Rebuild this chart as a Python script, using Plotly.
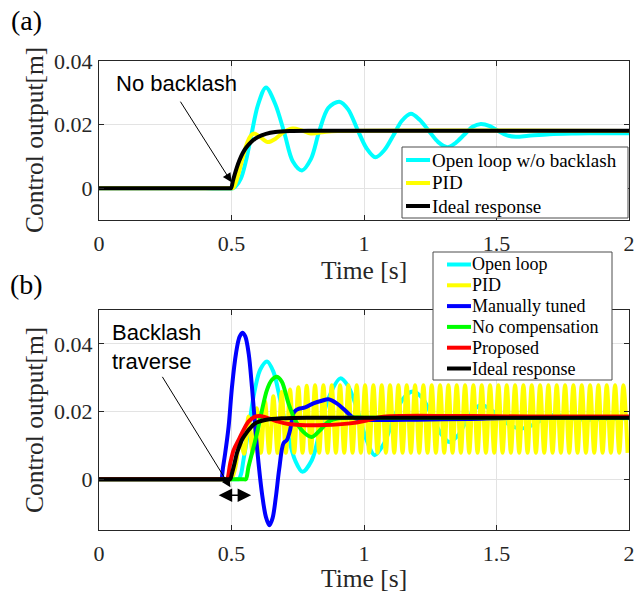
import plotly.graph_objects as go

W, H = 634, 596          # browser window / figure size

# ---------------- data: panel (a) ----------------
t_a_open = [0, 0.400, 0.505, 0.515, 0.535, 0.555, 0.575, 0.600, 0.630, 0.665, 0.700, 0.731, 0.766,
            0.800, 0.830, 0.865, 0.907, 0.940, 0.975, 1.010, 1.043, 1.077, 1.110, 1.143, 1.177,
            1.210, 1.245, 1.280, 1.315, 1.345, 1.378, 1.410, 1.441, 1.475, 1.507, 1.540, 1.573,
            1.620, 1.700, 1.800, 1.900, 2.000]
v_a_open = [0, 0, 0, 0.0005, 0.0030, 0.0088, 0.0168, 0.0262, 0.0317, 0.0265, 0.0172, 0.0085, 0.0056,
            0.0092, 0.0176, 0.0252, 0.0272, 0.0248, 0.0185, 0.0125, 0.0097, 0.0120, 0.0165, 0.0212, 0.0234,
            0.0215, 0.0180, 0.0145, 0.0129, 0.0142, 0.0168, 0.0193, 0.0202, 0.0195, 0.0180, 0.0166, 0.0162,
            0.0165, 0.0170, 0.0172, 0.0173, 0.0173]

t_a_pid = [0, 0.400, 0.495, 0.505, 0.515, 0.528, 0.542, 0.556, 0.570, 0.585, 0.605, 0.637, 0.665,
           0.700, 0.731, 0.765, 0.800, 0.850, 0.900, 2.000]
v_a_pid = [0, 0, 0, 0, 0.0015, 0.0050, 0.0095, 0.0135, 0.0162, 0.0172, 0.0163, 0.0145, 0.0155,
           0.0178, 0.0188, 0.0182, 0.0172, 0.0177, 0.0180, 0.0180]

t_a_ideal = [0, 0.400, 0.490, 0.498, 0.505, 0.512, 0.520, 0.530, 0.542, 0.555, 0.575, 0.600, 0.630,
             0.665, 0.720, 0.800, 1.000, 2.000]
v_a_ideal = [0, 0, 0, 0, 0.0022, 0.0043, 0.0065, 0.0088, 0.0110, 0.0127, 0.0146, 0.0161, 0.0171,
             0.0177, 0.0180, 0.0181, 0.0181, 0.0181]

# ---------------- data: panel (b) ----------------
t_b_open = [0, 0.400, 0.520, 0.527, 0.536, 0.545, 0.564, 0.583, 0.608, 0.634, 0.658, 0.684, 0.709,
            0.740, 0.768, 0.803, 0.834, 0.866, 0.911, 0.940, 0.975, 1.010, 1.040, 1.075, 1.110,
            1.145, 1.184, 1.220, 1.255, 1.290, 1.322, 1.355, 1.385, 1.415, 1.442, 1.480, 1.515,
            1.555, 1.592, 1.630, 1.670, 1.715, 1.760, 1.800, 1.850, 1.900, 2.000]
v_b_open = [0, 0, 0, 0, 0.0015, 0.0056, 0.0145, 0.0244, 0.0323, 0.0348, 0.0318, 0.0234, 0.0145,
            0.0056, 0.0022, 0.0056, 0.0145, 0.0239, 0.0298, 0.0275, 0.0205, 0.0115, 0.0071, 0.0105, 0.0175,
            0.0235, 0.0259, 0.0240, 0.0190, 0.0135, 0.0110, 0.0130, 0.0170, 0.0205, 0.0219, 0.0205, 0.0180,
            0.0158, 0.0150, 0.0158, 0.0175, 0.0190, 0.0185, 0.0178, 0.0176, 0.0178, 0.0180]

t_b_pid = [0, 0.300, 0.450, 0.490, 0.500, 0.516,
           0.5322, 0.5479, 0.5637, 0.5794, 0.5951, 0.6108, 0.6266, 0.6423, 0.6580, 0.6737,
           0.6895, 0.7052, 0.7209, 0.7366, 0.7524, 0.7681, 0.7839, 0.7996, 0.8153, 0.8310,
           0.8468, 0.8625, 0.8782, 0.8939, 0.9097, 0.9254, 0.9411, 0.9568, 0.9725, 0.9882,
           1.0040, 1.0197, 1.0354, 1.0511, 1.0669, 1.0826, 1.0983, 1.1140, 1.1298, 1.1455,
           1.1612, 1.1769, 1.1927, 1.2084, 1.2241, 1.2398, 1.2556, 1.2713, 1.2870, 1.3027,
           1.3185, 1.3342, 1.3499, 1.3656, 1.3814, 1.3971, 1.4128, 1.4285, 1.4443, 1.4600,
           1.4757, 1.4914, 1.5072, 1.5229, 1.5386, 1.5543, 1.5701, 1.5858, 1.6015, 1.6172,
           1.6330, 1.6487, 1.6644, 1.6801, 1.6959, 1.7116, 1.7273, 1.7430, 1.7588, 1.7745,
           1.7902, 1.8059, 1.8217, 1.8374, 1.8531, 1.8688, 1.8846, 1.9003, 1.9160, 1.9317,
           1.9475, 1.9632, 1.9789, 1.9946]
v_b_pid = [0, 0, 0, 0, 0, 0.004,
           0.0120, 0.0075, 0.0185, 0.0078, 0.0210, 0.0078, 0.0230, 0.0078, 0.0245, 0.0078,
           0.0258, 0.0078, 0.0265, 0.0078, 0.0272, 0.0078, 0.0276, 0.0078, 0.0278, 0.0078,
           0.0278, 0.0078, 0.0278, 0.0078, 0.0278, 0.0078, 0.0278, 0.0078, 0.0278, 0.0078,
           0.0278, 0.0078, 0.0278, 0.0078, 0.0278, 0.0078, 0.0278, 0.0078, 0.0278, 0.0078,
           0.0278, 0.0078, 0.0278, 0.0078, 0.0278, 0.0078, 0.0278, 0.0078, 0.0278, 0.0078,
           0.0278, 0.0078, 0.0278, 0.0078, 0.0278, 0.0078, 0.0278, 0.0078, 0.0278, 0.0078,
           0.0278, 0.0078, 0.0278, 0.0078, 0.0278, 0.0078, 0.0278, 0.0078, 0.0278, 0.0078,
           0.0278, 0.0078, 0.0278, 0.0078, 0.0278, 0.0078, 0.0278, 0.0078, 0.0278, 0.0078,
           0.0278, 0.0078, 0.0278, 0.0078, 0.0278, 0.0078, 0.0278, 0.0078, 0.0278, 0.0078,
           0.0278, 0.0078, 0.0278, 0.0078]

t_b_manual = [0, 0.400, 0.455, 0.461, 0.468, 0.476, 0.489, 0.502, 0.517, 0.530, 0.541, 0.552, 0.565,
              0.577, 0.596, 0.615, 0.630, 0.643, 0.655, 0.667, 0.680, 0.696, 0.709, 0.721, 0.734,
              0.742, 0.753, 0.778, 0.809, 0.841, 0.866, 0.897, 0.928, 0.954, 0.980, 1.050, 1.200,
              1.400, 1.550, 2.000]
v_b_manual = [0, 0, 0, 0, 0.0035, 0.0076, 0.0155, 0.0274, 0.0372, 0.0420, 0.0433, 0.0422, 0.0370,
              0.0274, 0.0096, -0.0042, -0.0112, -0.0136, -0.0115, -0.0055, 0.0030, 0.0106, 0.0116, 0.0145, 0.0195,
              0.0203, 0.0208, 0.0212, 0.0224, 0.0232, 0.0236, 0.0224, 0.0204, 0.0185, 0.0177, 0.0175, 0.0176,
              0.0178, 0.0181, 0.0182]

t_b_nocomp = [0, 0.450, 0.545, 0.554, 0.564, 0.577, 0.596, 0.615, 0.634, 0.652, 0.671, 0.690, 0.715,
              0.740, 0.771, 0.803, 0.834, 0.866, 0.903, 0.950, 1.000, 2.000]
v_b_nocomp = [0, 0, 0, 0, 0.0036, 0.0076, 0.0135, 0.0204, 0.0264, 0.0293, 0.0303, 0.0288, 0.0224,
              0.0175, 0.0140, 0.0125, 0.0145, 0.0170, 0.0180, 0.0182, 0.0182, 0.0182]

t_b_prop = [0, 0.400, 0.475, 0.483, 0.495, 0.508, 0.527, 0.545, 0.564, 0.589, 0.608, 0.640, 0.677,
            0.715, 0.760, 0.850, 0.947, 1.000, 1.040, 1.073, 1.150, 1.300, 1.500, 1.700, 2.000]
v_b_prop = [0, 0, 0, 0, 0.0046, 0.0086, 0.0116, 0.0145, 0.0170, 0.0185, 0.0187, 0.0180, 0.0170,
            0.0163, 0.0160, 0.0160, 0.0165, 0.0172, 0.0180, 0.0185, 0.0187, 0.0187, 0.0186, 0.0185, 0.0185]

t_b_ideal = [0, 0.400, 0.487, 0.495, 0.502, 0.508, 0.514, 0.520, 0.530, 0.539, 0.552, 0.564, 0.589,
             0.627, 0.690, 0.800, 2.000]
v_b_ideal = [0, 0, 0, 0, 0.0018, 0.0036, 0.0056, 0.0076, 0.0098, 0.0116, 0.0132, 0.0145, 0.0165,
             0.0175, 0.0180, 0.0182, 0.0182]

names_a = ["Open loop w/o backlash", "PID", "Ideal response"]
colors_a = ["#00FFFF", "#FFFF00", "#000000"]
names_b = ["Open loop", "PID", "Manually tuned", "No compensation", "Proposed", "Ideal response"]
colors_b = ["#00FFFF", "#FFFF00", "#0000FF", "#00FF00", "#FF0000", "#000000"]

x_tickvals = [0, 0.5, 1, 1.5, 2]
x_ticktext = ["0", "0.5", "1", "1.5", "2"]
y_tickvals = [0, 0.02, 0.04]
y_ticktext = ["0", "0.02", "0.04"]
x_title = "Time [s]"
y_title = "Control output[m]"


# ---------------- helpers: window pixels -> paper coordinates ----------------
def px(x):
    return x / W


def py(y):
    return 1 - y / H


SERIF = "Liberation Serif, Times New Roman, serif"
SANS = "Liberation Sans, Arial, sans-serif"
AXC = "#262626"

fig = go.Figure()

series_a = [(t_a_open, v_a_open), (t_a_pid, v_a_pid), (t_a_ideal, v_a_ideal)]
for (t, v), name, c in zip(series_a, names_a, colors_a):
    fig.add_trace(go.Scatter(x=t, y=v, name=name, mode="lines", showlegend=False,
                             line=dict(color=c, width=4, shape="spline", smoothing=0.9),
                             xaxis="x", yaxis="y"))

series_b = [(t_b_open, v_b_open), (t_b_pid, v_b_pid), (t_b_manual, v_b_manual),
            (t_b_nocomp, v_b_nocomp), (t_b_prop, v_b_prop), (t_b_ideal, v_b_ideal)]
for (t, v), name, c in zip(series_b, names_b, colors_b):
    fig.add_trace(go.Scatter(x=t, y=v, name=name, mode="lines", showlegend=False,
                             line=dict(color=c, width=4, shape="spline", smoothing=0.9),
                             xaxis="x2", yaxis="y2"))

common_x = dict(range=[0, 2], tickvals=x_tickvals, ticktext=x_ticktext,
                ticks="inside", ticklen=5, tickcolor=AXC, mirror="ticks",
                showline=True, linecolor=AXC, linewidth=1, automargin=False,
                showgrid=True, gridcolor="#e3e3e3", gridwidth=1, zeroline=False,
                ticklabelstandoff=4, ticklabeloverflow="allow",
                tickfont=dict(family=SERIF, size=22, color=AXC),
                domain=[px(99), px(629)])
common_y = dict(tickvals=y_tickvals, ticktext=y_ticktext,
                ticks="inside", ticklen=5, tickcolor=AXC, mirror="ticks",
                showline=True, linecolor=AXC, linewidth=1, automargin=False,
                showgrid=True, gridcolor="#e3e3e3", gridwidth=1, zeroline=False,
                ticklabelstandoff=1, ticklabeloverflow="allow",
                tickfont=dict(family=SERIF, size=22, color=AXC))

fig.update_layout(
    width=W, height=H, autosize=False,
    margin=dict(l=0, r=0, t=0, b=0, pad=0),
    paper_bgcolor="white", plot_bgcolor="white",
    showlegend=False,
    xaxis=dict(common_x, anchor="y"),
    yaxis=dict(common_y, anchor="x", range=[-0.01, 0.04], domain=[py(220), py(61)]),
    xaxis2=dict(common_x, anchor="y2"),
    yaxis2=dict(common_y, anchor="x2", range=[-0.015, 0.05], domain=[py(530), py(310)]),
)

ann = []
shapes = []


def text_ann(text, x, y, font, xanchor="center", yanchor="middle", **kw):
    ann.append(dict(text=text, x=px(x), y=py(y), xref="paper", yref="paper",
                    xanchor=xanchor, yanchor=yanchor, showarrow=False, font=font, **kw))


# panel labels
text_ann("(a)", 26, 21, dict(family=SERIF, size=28, color="black"))
text_ann("(b)", 26, 284, dict(family=SERIF, size=28, color="black"))

# axis titles
for cy_title, cy_x in [(140, 270), (420, 578)]:
    text_ann(y_title, 34, cy_title, dict(family=SERIF, size=25.5, color=AXC), textangle=-90)
    text_ann(x_title, 364, cy_x, dict(family=SERIF, size=25.5, color=AXC))

# text callouts
text_ann("No backlash", 114, 83, dict(family=SANS, size=22, color="black"), xanchor="left")
ann.append(dict(text="", x=0.5, y=0.0019, xref="x", yref="y", ax=-52, ay=-82,
                showarrow=True, arrowhead=2, arrowsize=1.8, arrowwidth=1, arrowcolor="black"))

text_ann("Backlash<br>traverse", 110, 347, dict(family=SANS, size=22, color="black"),
         xanchor="left", align="left")
ann.append(dict(text="", x=0.496, y=-0.0024, xref="x2", yref="y2", ax=-69, ay=-112,
                showarrow=True, arrowhead=2, arrowsize=1.8, arrowwidth=1, arrowcolor="black"))
ann.append(dict(text="", x=0.574, y=-0.0047, xref="x2", yref="y2",
                ax=0.446, ay=-0.0047, axref="x2", ayref="y2",
                showarrow=True, arrowhead=2, arrowside="end+start",
                arrowsize=1.8, arrowwidth=1.5, arrowcolor="black"))


# manual legends (built from the name/colour lists)
def add_legend(names, colors, box, first_y, step, line_x0, line_x1, text_x, fsize):
    x0, y0, x1, y1 = box
    shapes.append(dict(type="rect", xref="paper", yref="paper", layer="above",
                       x0=px(x0), x1=px(x1), y0=py(y0), y1=py(y1),
                       line=dict(color="#4d4d4d", width=1), fillcolor="white"))
    for i, (n, c) in enumerate(zip(names, colors)):
        yy = first_y + i * step
        shapes.append(dict(type="line", xref="paper", yref="paper", layer="above",
                           x0=px(line_x0), x1=px(line_x1), y0=py(yy), y1=py(yy),
                           line=dict(color=c, width=4)))
        text_ann(n, text_x, yy, dict(family=SERIF, size=fsize, color="black"), xanchor="left")


add_legend(names_a, colors_a, (402, 147, 628, 218), 160, 23, 406, 430, 430, 19)
add_legend(names_b, colors_b, (433, 252, 612, 380), 264.5, 20.8, 447, 471, 470, 18)

fig.update_layout(annotations=ann, shapes=shapes)

# the page's default 8px body margin would push the 634x596 figure out of the window
fig.write_html("out.html",
               config={"displayModeBar": False},
               post_script="document.body.style.margin='0px';"
                           "document.body.style.overflow='hidden';")
